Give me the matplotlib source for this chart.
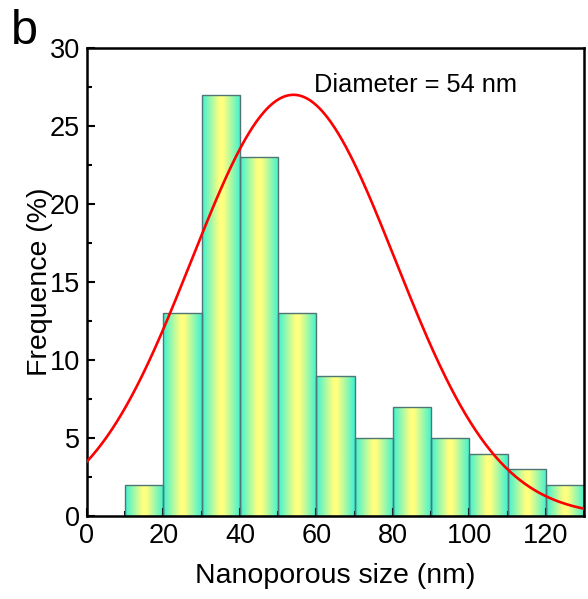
import matplotlib
matplotlib.use("Agg")
import matplotlib.pyplot as plt
import numpy as np
from matplotlib.colors import LinearSegmentedColormap
from matplotlib.patches import Rectangle
from matplotlib.ticker import MultipleLocator

# histogram data (bin left edges, width 10 nm)
bin_left = [10, 20, 30, 40, 50, 60, 70, 80, 90, 100, 110, 120]
freq = [2, 13, 27, 23, 13, 9, 5, 7, 5, 4, 3, 2]
bin_width = 10

# gaussian fit parameters
fit_center = 54
fit_amp = 27
fit_sigma = 26.7

plt.rcParams['font.family'] = ['Liberation Sans', 'DejaVu Sans']

fig = plt.figure(figsize=(5.88, 5.99), dpi=100)
ax = fig.add_axes([87/588, 1 - 516/599, 497/588, 468/599])

cmap = LinearSegmentedColormap.from_list('cy', [(0, '#3cf2d4'), (0.45, '#ffff80'), (0.55, '#ffff80'), (1, '#3cf2d4')])
grad = np.linspace(0, 1, 256).reshape(1, -1)

for x0, h in zip(bin_left, freq):
    im = ax.imshow(grad, cmap=cmap, aspect='auto', extent=[x0, x0 + bin_width, 0, h],
                   zorder=1, interpolation='bilinear')
    rect = Rectangle((x0, 0), bin_width, h, facecolor='none', edgecolor='#4f7575',
                     linewidth=1.0, zorder=2)
    ax.add_patch(rect)
    im.set_clip_path(rect)

xs = np.linspace(0, 130, 400)
ys = fit_amp * np.exp(-(xs - fit_center) ** 2 / (2 * fit_sigma ** 2))
ax.plot(xs, ys, color='#ff0000', lw=1.9, zorder=3)

ax.set_xlim(0, 130)
ax.set_ylim(0, 30)
ax.xaxis.set_major_locator(MultipleLocator(20))
ax.xaxis.set_minor_locator(MultipleLocator(10))
ax.yaxis.set_major_locator(MultipleLocator(5))
ax.yaxis.set_minor_locator(MultipleLocator(2.5))
ax.tick_params(which='both', direction='in', top=False, right=False, labelsize=19.5, width=1.5, pad=5)
ax.tick_params(which='major', length=6)
ax.tick_params(which='minor', length=3.5)
for s in ax.spines.values():
    s.set_linewidth(1.8)

ax.set_xlabel('Nanoporous size (nm)', fontsize=20.5, labelpad=10)
ax.set_ylabel('Frequence (%)', fontsize=20.5, labelpad=-2)
ax.text(59.5, 27.6, 'Diameter = 54 nm', fontsize=18.3, va='center', ha='left')
fig.text(11/588, 1 - 32/599, 'b', fontsize=35, va='center', ha='left')

fig.savefig('out.png', dpi=100)
